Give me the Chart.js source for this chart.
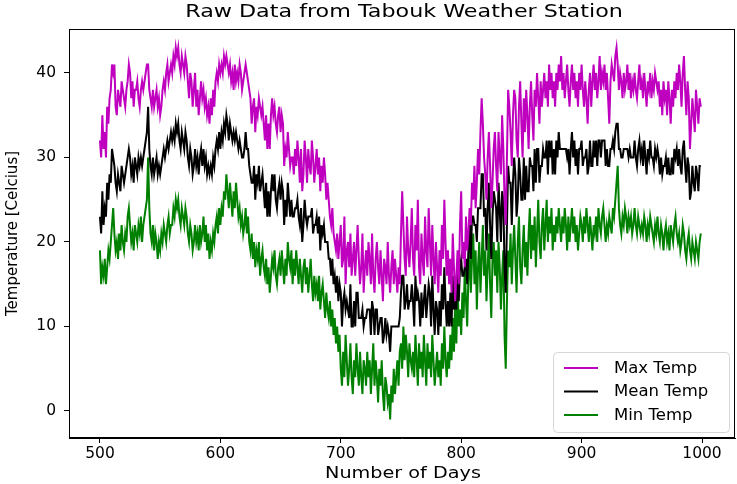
<!DOCTYPE html>
<html>
<head>
<meta charset="utf-8">
<title>Raw Data from Tabouk Weather Station</title>
<script src="https://cdn.jsdelivr.net/npm/chart.js@4.4.1/dist/chart.umd.min.js"></script>
<style>
  html, body { margin: 0; padding: 0; background: #fff; }
  #wrap { width: 737px; height: 484px; }
</style>
</head>
<body>
<div id="wrap"><canvas id="js-chart-tabouk" width="737" height="484"></canvas></div>
<script>
// Day numbers (categories) start at day 500, one reading per day
const firstDay = 500;
const xTicks = [500, 600, 700, 800, 900, 1000];
const yTicks = [0, 10, 20, 30, 40];

// Daily maximum temperature, days 500..999
const maxTemp = [
  32,30,35,31,33,30,36,34,37,38, 41,40,41,36,35,38,37,36,39,38,
  37,36,38,39,41,40,37,39,36,38, 38,39,37,36,38,39,38,39,40,41,
  41,38,37,36,38,36,37,38,36,37, 35,36,38,39,38,40,41,39,40,41,
  40,42,41,43,42,43,41,40,42,41, 40,42,41,39,37,40,39,36,38,40,
  36,38,35,37,39,37,38,36,37,35, 36,34,37,35,38,36,39,40,39,41,
  40,41,40,42,41,42,41,40,41,39, 40,38,41,39,40,39,41,40,38,39,
  40,41,40,39,38,37,34,36,37,33, 36,35,37,36,35,36,34,32,35,31,
  34,31,35,37,35,36,34,33,35,36, 33,35,34,29,31,30,33,31,29,30,
  30,28,31,29,32,30,27,31,26,28, 32,30,27,31,29,28,32,30,27,29,
  31,28,30,26,29,27,30,28,25,27, 25,23,22,24,21,20,19,21,18,20,
  22,17,18,23,15,19,20,17,21,16, 18,20,16,19,22,18,15,17,21,14,
  17,19,16,20,18,15,21,16,14,18, 20,17,15,19,16,13,18,17,15,20,
  16,14,17,19,15,18,16,14,17,15, 21,26,22,18,16,23,19,17,20,24,
  18,16,22,19,25,17,15,21,18,16, 23,19,17,24,20,16,22,18,15,20,
  17,14,19,16,22,18,25,20,16,19, 15,18,14,21,17,13,16,19,15,22,
  26,18,20,17,23,19,21,24,22,27, 25,29,24,27,31,28,33,37,34,30,
  28,25,30,33,29,24,27,31,33,29, 26,33,30,28,35,31,25,22,30,38,
  36,33,29,35,38,37,32,30,36,39, 34,30,37,33,38,35,31,36,39,35,
  32,38,36,40,37,34,39,36,38,40, 37,39,36,41,38,40,37,39,36,40,
  38,41,39,42,38,40,37,39,41,38, 36,39,41,38,40,37,39,36,40,38,
  41,38,36,39,37,34,38,40,36,39, 41,38,40,37,39,42,38,40,39,41,
  38,40,37,34,39,41,40,39,42,43, 41,38,40,39,37,40,38,39,41,38,
  40,37,39,38,40,38,37,39,41,38, 39,37,40,38,36,39,38,40,37,39,
  38,40,39,38,39,36,38,35,39,37, 38,35,39,37,34,38,36,39,37,40,
  38,41,39,36,40,42,38,35,39,37, 31,34,37,35,33,38,36,34,37,36
];

// Daily mean temperature, days 500..999
const meanTemp = [
  23,21,26,22,24,23,27,25,28,27, 31,30,29,27,26,28,27,26,29,28,
  27,28,29,30,31,30,28,29,27,30, 29,28,30,29,30,29,30,31,32,33,
  36,31,29,28,30,28,29,30,28,29, 28,29,30,31,30,31,32,31,32,33,
  32,33,32,34,33,34,32,31,33,32, 31,33,32,30,29,31,30,28,29,31,
  29,30,28,30,31,29,31,29,30,28, 29,28,29,28,30,29,31,32,31,33,
  31,33,32,34,33,35,34,32,34,33, 32,33,32,33,32,31,32,31,30,30,
  31,33,31,31,29,28,27,27,29,25, 28,27,29,26,27,28,26,24,27,23,
  26,23,26,28,26,28,25,24,26,27, 25,27,26,22,25,23,27,25,23,25,
  23,23,24,24,25,23,22,24,20,22, 25,23,22,23,23,23,24,21,22,22,
  23,21,23,19,22,21,22,20,20,20, 18,18,16,18,15,16,14,16,13,15,
  14,10,13,14,12,13,12,11,15,10, 10,13,10,14,14,11,11,11,12,10,
  11,11,12,12,12,9,13,12,9,12, 12,9,10,11,11,8,9,11,9,10,
  9,7,10,10,10,10,10,10,10,11, 14,16,16,12,13,15,12,13,13,15,
  13,10,16,13,14,13,10,14,11,13, 15,11,13,15,14,10,16,12,9,13,
  12,9,13,10,15,12,17,13,10,13, 10,14,10,16,12,13,12,17,13,17,
  18,16,16,17,18,15,19,22,18,23, 23,22,22,20,24,24,24,28,28,23,
  24,19,24,27,22,18,23,26,25,24, 20,27,24,20,26,25,17,14,22,29,
  27,27,22,27,30,28,23,25,30,28, 25,25,30,25,29,26,26,30,29,29,
  26,31,27,31,31,27,29,29,31,30, 30,32,28,32,30,32,28,31,28,32,
  30,33,31,31,31,31,31,31,30,31, 28,31,33,30,32,29,31,28,31,31,
  32,29,30,30,31,28,29,32,29,29, 32,30,32,29,32,32,30,32,32,32,
  29,31,29,29,31,31,32,31,33,34, 34,31,31,30,30,31,31,31,31,30,
  31,30,30,30,32,30,29,31,32,30, 31,29,32,30,28,31,30,32,30,30,
  29,31,30,31,30,28,30,28,29,29, 30,28,30,28,28,30,28,31,30,31,
  29,31,29,28,31,32,29,27,30,29, 25,26,29,27,26,29,28,26,29,29
];

// Daily minimum temperature, days 500..999
const minTemp = [
  19,15,17,16,18,15,17,19,18,20, 22,24,21,19,20,18,21,19,22,20,
  19,21,20,23,24,22,20,21,19,22, 21,20,22,21,23,20,22,23,24,25,
  30,24,21,20,22,19,21,20,18,20, 19,21,20,22,21,20,22,23,21,22,
  22,24,23,25,24,25,23,22,24,23, 22,24,23,21,20,22,21,19,20,22,
  20,21,19,22,20,21,23,20,22,19, 21,18,20,19,21,20,22,23,21,24,
  22,24,23,26,25,28,26,24,27,25, 23,26,24,27,25,23,24,22,23,21,
  22,24,21,23,20,19,21,18,20,17, 19,18,20,16,18,19,17,16,18,15,
  17,14,16,18,17,19,16,15,17,18, 16,19,17,15,18,16,20,18,17,19,
  15,18,16,19,17,15,18,16,14,17, 18,15,17,14,16,18,15,13,16,14,
  15,13,16,12,14,15,13,11,14,12, 11,13,10,12,9,11,8,10,7,9,
  5,3,7,4,9,6,3,5,8,4, 2,6,4,8,5,3,7,4,2,6,
  5,3,7,4,6,2,5,8,3,6, 4,1,5,3,6,2,0,4,3,1,
  2,-1,3,1,5,2,4,6,3,7, 8,5,10,6,9,7,4,8,6,5,
  7,4,9,6,3,8,5,7,4,9, 6,3,8,5,7,4,9,6,3,5,
  7,4,6,3,8,5,10,6,4,7, 5,9,6,11,7,13,8,15,10,12,
  9,14,11,17,13,10,16,19,14,18, 21,15,19,12,17,20,14,18,22,16,
  19,13,17,21,15,11,18,20,16,19, 14,20,17,12,16,19,9,5,13,19,
  17,21,15,19,22,18,14,20,23,17, 15,19,22,17,20,16,21,24,18,22,
  19,23,17,21,25,20,18,22,24,19, 22,25,20,23,21,24,19,22,20,23,
  21,24,22,20,23,21,24,22,19,23, 20,22,24,21,23,20,22,19,21,23,
  22,20,23,21,24,22,20,23,21,19, 22,21,23,20,24,22,21,23,24,22,
  20,22,21,23,22,21,24,23,25,27, 29,24,22,21,23,22,24,23,21,23,
  22,23,21,22,24,22,21,23,22,21, 22,21,23,22,20,22,21,23,22,21,
  20,22,21,23,21,20,22,21,19,21, 22,20,21,19,22,21,20,22,23,21,
  20,21,19,20,22,21,19,18,20,21, 19,18,20,19,18,20,19,18,20,21
];

const days = maxTemp.map((v, i) => firstDay + i);
const toPoints = arr => arr.map((v, i) => ({x: days[i], y: v}));

// horizontally widened text, the source image is stretched sideways
function wideText(ctx, text, cx, cy, size, stretch, align) {
  ctx.save();
  ctx.translate(cx, cy);
  ctx.scale(stretch, 1);
  ctx.font = size + 'px "DejaVu Sans"';
  ctx.textAlign = align;
  ctx.textBaseline = 'middle';
  ctx.fillStyle = '#000';
  ctx.fillText(text, 0, 0);
  ctx.restore();
}

// Frame (top/right spines) + title + x label + legend box like matplotlib
const mplDecor = {
  id: 'mplDecor',
  afterDraw(chart) {
    const ctx = chart.ctx;
    const a = chart.chartArea;
    ctx.save();
    ctx.strokeStyle = '#000';
    ctx.lineWidth = 1;
    ctx.strokeRect(Math.round(a.left) + 0.5, Math.round(a.top) + 0.5,
      Math.round(a.right - a.left) - 1, Math.round(a.bottom - a.top) - 1);

    wideText(ctx, 'Raw Data from Tabouk Weather Station', 404, 12, 17.5, 1.27, 'center');
    wideText(ctx, 'Number of Days', 403, 474, 15.5, 1.24, 'center');

    // legend, lower right
    const sets = chart.data.datasets;
    const bx = 553, by = 352, boxW = 176, boxH = 80;
    ctx.beginPath();
    ctx.roundRect(bx + 0.5, by + 0.5, boxW, boxH, 4);
    ctx.fillStyle = 'rgba(255,255,255,0.8)';
    ctx.fill();
    ctx.strokeStyle = '#d6d6d6';
    ctx.lineWidth = 1;
    ctx.stroke();
    sets.forEach((ds, i) => {
      const ly = by + 16 + i * 23.5;
      ctx.beginPath();
      ctx.moveTo(bx + 11, ly);
      ctx.lineTo(bx + 45, ly);
      ctx.strokeStyle = ds.borderColor;
      ctx.lineWidth = 2;
      ctx.stroke();
      wideText(ctx, ds.label, bx + 61, ly + 1, 15, 1.1, 'left');
    });
    ctx.restore();
  }
};

let chartTaboukCon = document.getElementById('js-chart-tabouk');

let chartTaboukData = {
  datasets: [
    { label: 'Max Temp', data: toPoints(maxTemp), borderColor: '#bf00bf' },
    { label: 'Mean Temp', data: toPoints(meanTemp), borderColor: '#000000' },
    { label: 'Min Temp', data: toPoints(minTemp), borderColor: '#008000' }
  ]
};

let tickFont = { family: 'DejaVu Sans', size: 15.5 };

let chartTabouk = new Chart(chartTaboukCon, {
  type: 'line',
  data: chartTaboukData,
  plugins: [mplDecor],
  options: {
    responsive: false,
    animation: false,
    events: [],
    layout: { padding: { top: 29, right: 2, left: 0, bottom: 0 } },
    elements: {
      line: { borderWidth: 2, tension: 0, fill: false },
      point: { radius: 0 }
    },
    plugins: { legend: { display: false }, tooltip: { enabled: false } },
    scales: {
      x: {
        type: 'linear',
        min: 474.3,
        max: 1027.4,
        afterBuildTicks: s => { s.ticks = xTicks.map(v => ({value: v})); },
        afterFit: s => { s.height = 46; },
        grid: { drawOnChartArea: false, drawTicks: true, tickLength: 5, tickColor: '#000' },
        border: { display: true, color: '#000', width: 1 },
        ticks: { color: '#000', font: tickFont, padding: 2, maxRotation: 0, callback: v => String(v) },
        title: { display: false }
      },
      y: {
        min: -3.2,
        max: 45.2,
        afterBuildTicks: s => { s.ticks = yTicks.map(v => ({value: v})); },
        afterFit: s => { s.width = 69; },
        grid: { drawOnChartArea: false, drawTicks: true, tickLength: 5, tickColor: '#000' },
        border: { display: true, color: '#000', width: 1 },
        ticks: { color: '#000', font: tickFont, padding: 8 },
        title: { display: true, text: 'Temperature [Celcius]', color: '#000', font: { family: 'DejaVu Sans', size: 15 }, padding: { top: 4, bottom: 0 } }
      }
    }
  }
});
</script>
</body>
</html>
